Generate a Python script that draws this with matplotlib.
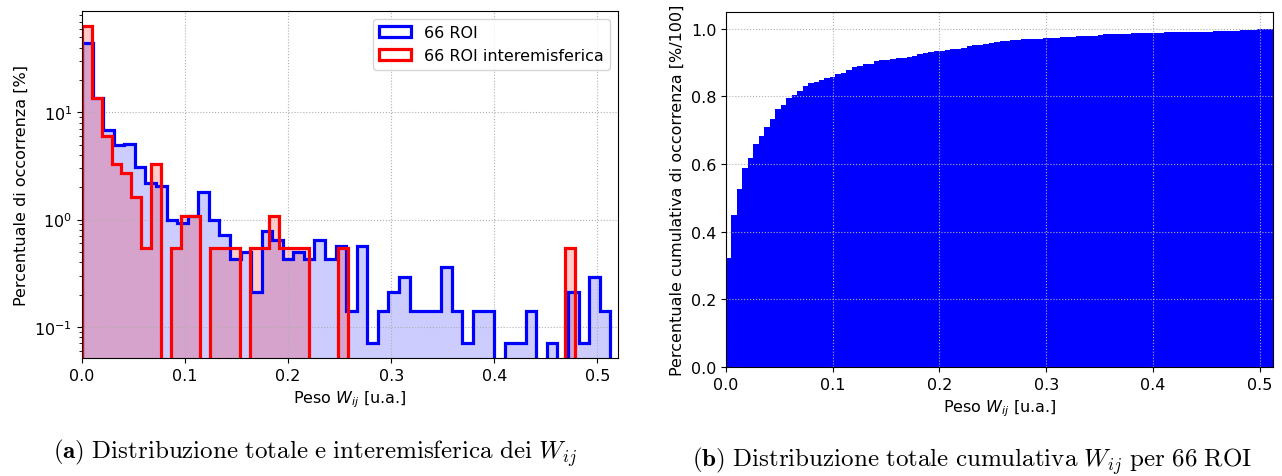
import numpy as np
import matplotlib
matplotlib.use('Agg')
import matplotlib.pyplot as plt

# Percent of occurrences per bin (50 bins)
w_max_all = 0.5126      # largest weight, all 66 ROI
w_max_inter = 0.478     # largest weight, interhemispheric only

blue_pct = [44.5, 13.6, 6.9, 5.0, 5.1, 3.1, 2.2, 2.05, 1.0, 0.93,
            1.07, 1.79, 1.0, 0.71, 0.43, 0.5, 0.21, 0.79, 0.64, 0.43,
            0.5, 0.43, 0.64, 0.43, 0.57, 0.14, 0.57, 0.071, 0.14, 0.21,
            0.29, 0.14, 0.14, 0.14, 0.36, 0.14, 0.071, 0.14, 0.14, 0,
            0.071, 0.071, 0.14, 0, 0.071, 0, 0.21, 0.071, 0.29, 0.14]

red_pct = [63.7, 13.7, 5.95, 3.3, 2.73, 1.62, 0.54, 3.26, 0, 0.54,
           1.09, 1.09, 0, 0.54, 0.54, 0.54, 0, 0.54, 0.54, 1.09,
           0.54, 0.54, 0.54, 0, 0, 0, 0.54, 0, 0, 0,
           0, 0, 0, 0, 0, 0, 0, 0, 0, 0,
           0, 0, 0, 0, 0, 0, 0, 0, 0, 0.54]

# Cumulative fraction (100 bins), all 66 ROI
cum_frac = [0.3225, 0.4497, 0.5266, 0.5888, 0.6183, 0.6598, 0.6834, 0.7101, 0.7337, 0.7633,
            0.7751, 0.7959, 0.8038, 0.8166, 0.8314, 0.8402, 0.8432, 0.8491, 0.8550, 0.8580,
            0.8669, 0.8698, 0.8787, 0.8876, 0.8905, 0.8964, 0.8964, 0.9053, 0.9083, 0.9083,
            0.9112, 0.9142, 0.9142, 0.9172, 0.9201, 0.9260, 0.9290, 0.9320, 0.9350, 0.9350,
            0.9379, 0.9408, 0.9408, 0.9438, 0.9497, 0.9527, 0.9527, 0.9556, 0.9586, 0.9615,
            0.9645, 0.9645, 0.9675, 0.9675, 0.9704, 0.9704, 0.9704, 0.9704, 0.9734, 0.9734,
            0.9734, 0.9763, 0.9763, 0.9763, 0.9793, 0.9793, 0.9793, 0.9793, 0.9822, 0.9852,
            0.9852, 0.9852, 0.9852, 0.9852, 0.9882, 0.9882, 0.9882, 0.9882, 0.9882, 0.9882,
            0.9911, 0.9911, 0.9911, 0.9911, 0.9911, 0.9911, 0.9911, 0.9911, 0.9911, 0.9941,
            0.9941, 0.9941, 0.9941, 0.9941, 0.9970, 0.9970, 0.9970, 1.0, 1.0, 1.0]

plt.rcParams['font.size'] = 11.5

fig = plt.figure(figsize=(12.82, 4.77), dpi=100)

# ---- (a) histogram, log scale ----
ax1 = fig.add_axes([0.064, 0.247, 0.418, 0.728])
ax1.set_yscale('log')
edges_b = np.linspace(0, w_max_all, len(blue_pct) + 1)
edges_r = np.linspace(0, w_max_inter, len(red_pct) + 1)
cb = (edges_b[:-1] + edges_b[1:]) / 2
cr = (edges_r[:-1] + edges_r[1:]) / 2

ax1.hist(cb, bins=edges_b, weights=blue_pct, color='blue', alpha=0.2)
ax1.hist(cb, bins=edges_b, weights=blue_pct, histtype='step', color='blue', lw=2.3, label='66 ROI')
ax1.hist(cr, bins=edges_r, weights=red_pct, color='red', alpha=0.2)
ax1.hist(cr, bins=edges_r, weights=red_pct, histtype='step', color='red', lw=2.3,
         label='66 ROI interemisferica')

ax1.set_xlim(0, 0.52)
ax1.set_ylim(0.051, 88)
ax1.set_xlabel('Peso $W_{ij}$ [u.a.]')
ax1.set_ylabel('Percentuale di occorrenza [%]')
ax1.grid(True, linestyle=':')
ax1.legend(loc='upper right')

# ---- (b) cumulative ----
ax2 = fig.add_axes([0.5663, 0.2285, 0.4267, 0.745])
edges_c = np.linspace(0, w_max_all, len(cum_frac) + 1)
cc = (edges_c[:-1] + edges_c[1:]) / 2
ax2.hist(cc, bins=edges_c, weights=cum_frac, histtype='stepfilled', color='blue')
ax2.set_xlim(0, w_max_all)
ax2.set_ylim(0, 1.05)
ax2.set_xlabel('Peso $W_{ij}$ [u.a.]')
ax2.set_ylabel('Percentuale cumulativa di occorrenza [%/100]')
ax2.grid(True, linestyle=':')

# captions
fig.text(0.246, 0.05, r'$\mathbf{(a)}\ \mathrm{Distribuzione\ totale\ e\ interemisferica\ dei}\ W_{ij}$',
         ha='center', va='center', fontsize=18, math_fontfamily='cm')
fig.text(0.758, 0.034, r'$\mathbf{(b)}\ \mathrm{Distribuzione\ totale\ cumulativa}\ W_{ij}\ \mathrm{per\ 66\ ROI}$',
         ha='center', va='center', fontsize=18, math_fontfamily='cm')

fig.savefig('out.png', dpi=100)
